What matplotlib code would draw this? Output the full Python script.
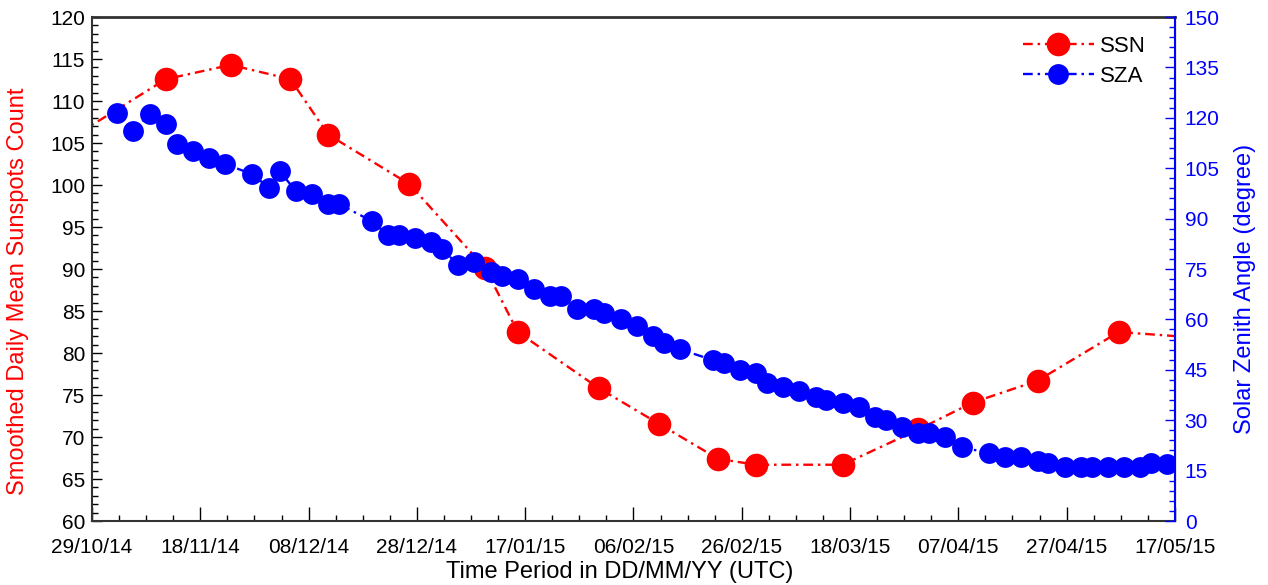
import matplotlib
matplotlib.use("Agg")
import matplotlib.pyplot as plt
import matplotlib.dates as mdates
from matplotlib.ticker import MultipleLocator
import pandas as pd

plt.rcParams['font.family'] = ['Liberation Sans', 'DejaVu Sans']
plt.rcParams['lines.scale_dashes'] = False

# ---- data ----
ssn_dates = ['2014-10-26', '2014-11-11', '2014-11-23', '2014-12-04', '2014-12-11',
             '2014-12-26', '2015-01-09', '2015-01-15', '2015-01-30', '2015-02-10',
             '2015-02-21', '2015-02-28', '2015-03-16', '2015-03-30', '2015-04-09',
             '2015-04-21', '2015-05-06', '2015-05-21']
ssn_values = [106.2, 112.6, 114.3, 112.6, 106.0, 100.1, 90.1, 82.5, 75.8, 71.6,
              67.4, 66.7, 66.7, 70.9, 74.1, 76.7, 82.5, 81.8]

sza_dates = ['2014-11-02', '2014-11-05', '2014-11-08', '2014-11-11', '2014-11-13',
             '2014-11-16', '2014-11-19', '2014-11-22', '2014-11-27', '2014-11-30',
             '2014-12-02', '2014-12-05', '2014-12-08', '2014-12-11', '2014-12-13',
             '2014-12-19', '2014-12-22', '2014-12-24', '2014-12-27', '2014-12-30',
             '2015-01-01', '2015-01-04', '2015-01-07', '2015-01-10', '2015-01-12',
             '2015-01-15', '2015-01-18', '2015-01-21', '2015-01-23', '2015-01-26',
             '2015-01-29', '2015-01-31', '2015-02-03', '2015-02-06', '2015-02-09',
             '2015-02-11', '2015-02-14', '2015-02-20', '2015-02-22', '2015-02-25',
             '2015-02-28', '2015-03-02', '2015-03-05', '2015-03-08', '2015-03-11',
             '2015-03-13', '2015-03-16', '2015-03-19', '2015-03-22', '2015-03-24',
             '2015-03-27', '2015-03-30', '2015-04-01', '2015-04-04', '2015-04-07',
             '2015-04-12', '2015-04-15', '2015-04-18', '2015-04-21', '2015-04-23',
             '2015-04-26', '2015-04-29', '2015-05-01', '2015-05-04', '2015-05-07',
             '2015-05-10', '2015-05-12', '2015-05-15']
sza_values = [121.3, 116.2, 121.1, 118.2, 112.3, 110.2, 108.1, 106.2, 103.2, 99.2,
              104.2, 98.2, 97.2, 94.3, 94.3, 89.3, 85.1, 85.1, 84.1, 83.1,
              81.0, 76.2, 77.2, 74.0, 73.0, 72.0, 69.0, 67.1, 67.1, 63.0,
              63.0, 62.0, 60.0, 58.0, 55.1, 53.1, 51.1, 47.9, 46.9, 44.9,
              44.0, 41.0, 40.0, 38.8, 37.0, 36.0, 35.0, 34.0, 31.0, 30.1,
              28.1, 26.1, 26.1, 24.9, 21.9, 20.3, 19.0, 19.0, 17.9, 17.2,
              16.2, 16.2, 16.2, 16.2, 16.2, 16.2, 17.4, 16.9]

obs_time = pd.Timedelta(hours=15)  # observation time of day
x_start, x_end = '2014-10-29', '2015-05-17'

ssn_x = pd.to_datetime(ssn_dates) + obs_time
sza_x = pd.to_datetime(sza_dates) + obs_time

# ---- figure ----
fig = plt.figure(figsize=(12.68, 5.85), dpi=100)
ax = fig.add_axes([0.0726, 0.1094, 0.854, 0.8615])
ax2 = ax.twinx()

dash = (0, (7, 3.5, 1.8, 3.5))
l1, = ax.plot(ssn_x, ssn_values, color='red', linestyle=dash, lw=1.7,
              marker='o', markersize=17, markeredgewidth=0, label='SSN', zorder=2)
l2, = ax2.plot(sza_x, sza_values, color='blue', linestyle=dash, lw=1.7,
               marker='o', markersize=15, markeredgewidth=0, label='SZA', zorder=3)

ax.set_xlim(pd.Timestamp(x_start), pd.Timestamp(x_end))
ax.set_ylim(60, 120)
ax2.set_ylim(0, 150)

ticks = pd.date_range(x_start, x_end, freq='20D')
ax.set_xticks(ticks)
ax.xaxis.set_major_formatter(mdates.DateFormatter('%d/%m/%y'))
minor = pd.date_range(x_start, x_end, freq='5D')
ax.set_xticks(minor, minor=True)

ax.yaxis.set_major_locator(MultipleLocator(5))
ax.yaxis.set_minor_locator(MultipleLocator(1))
ax2.yaxis.set_major_locator(MultipleLocator(15))
ax2.yaxis.set_minor_locator(MultipleLocator(3))

fs = 15
ax.tick_params(axis='both', which='major', direction='in', length=7, width=1,
               labelsize=fs, pad=5)
ax.tick_params(axis='both', which='minor', direction='in', length=4, width=1)
ax.tick_params(axis='x', which='major', length=10, pad=12)
ax2.tick_params(axis='y', which='major', direction='in', length=7, width=1,
                labelsize=fs, colors='blue', pad=7)
ax2.tick_params(axis='y', which='minor', direction='in', length=4, width=1,
                colors='blue')

for s in ['left', 'bottom', 'top']:
    ax.spines[s].set_color('#333333')
    ax.spines[s].set_linewidth(1.5)
ax2.spines['right'].set_color('blue')
ax2.spines['right'].set_linewidth(1.5)
ax.spines['top'].set_linewidth(2)
ax2.spines['top'].set_visible(False)
ax2.spines['left'].set_visible(False)
ax2.spines['bottom'].set_visible(False)

lfs = 17
ax.set_xlabel('Time Period in DD/MM/YY (UTC)', fontsize=lfs)
ax.set_ylabel('Smoothed Daily Mean Sunspots Count', fontsize=lfs, color='red')
ax2.set_ylabel('Solar Zenith Angle (degree)', fontsize=lfs, color='blue')
ax.xaxis.set_label_coords(0.487, -0.101)
ax.xaxis.label.set_va('center')
ax.yaxis.set_label_coords(-0.0683, 0.456)
ax.yaxis.label.set_va('center')
ax2.yaxis.set_label_coords(1.0646, 0.46)
ax2.yaxis.label.set_va('center')

leg = ax2.legend([l1, l2], ['SSN', 'SZA'], loc='upper right', frameon=False,
                 fontsize=16, handlelength=3.2, handletextpad=0.3,
                 labelspacing=0.42, markerscale=1.0,
                 bbox_to_anchor=(0.992, 1.003))

fig.savefig('out.png', dpi=100)
